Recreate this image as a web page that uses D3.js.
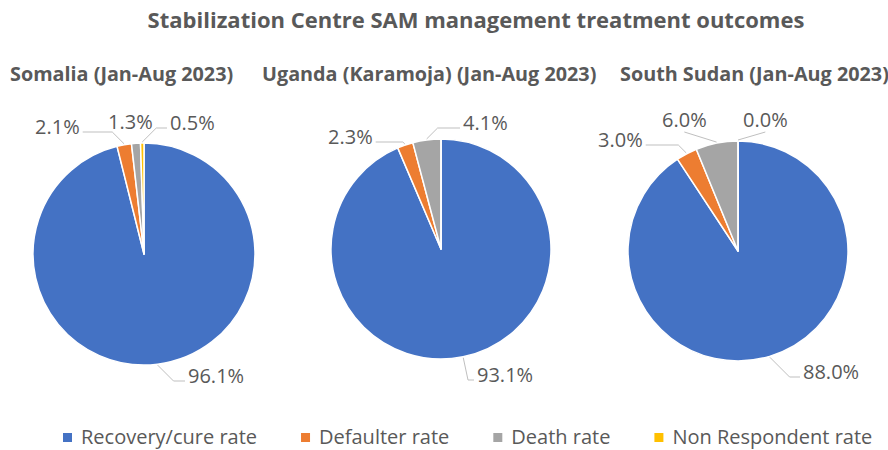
<!DOCTYPE html>
<html>
<head>
<meta charset="utf-8">
<script src="https://cdn.jsdelivr.net/npm/d3@7"></script>
<style>
  body { margin: 0; background: #fff; }
  svg text { font-family: "Open Sans", "Noto Sans", sans-serif; }
</style>
</head>
<body>
<svg id="chart"></svg>
<script>
// Data
const categories = ["Recovery/cure rate", "Defaulter rate", "Death rate", "Non Respondent rate"];
const colors = ["#4472C4", "#ED7D31", "#A5A5A5", "#FFC000"];
const regions = ["Somalia (Jan-Aug 2023)", "Uganda (Karamoja) (Jan-Aug 2023)", "South Sudan (Jan-Aug 2023)"];
const somalia = [96.1, 2.1, 1.3, 0.5];
const uganda = [93.1, 2.3, 4.1, null];
const southSudan = [88.0, 3.0, 6.0, 0.0];
const seriesValues = [somalia, uganda, southSudan];

// Chart Dimensions
const width = 888;
const height = 450;
const textColor = "#595959";

// pie placement and label offsets (relative to the pie centre)
const pies = [
  { cx: 144, cy: 254, r: 111, title: { x: 10, y: 81 } },
  { cx: 441, cy: 249, r: 110, title: { x: 262, y: 81 } },
  { cx: 738, cy: 251, r: 110, title: { x: 620, y: 81 } }
];
const labelLayout = [
  [{ dx: 44, dy: 122, at: "L" }, { dx: -109, dy: -127, at: "R" }, { dx: -36, dy: -132, at: "none" }, { dx: 26, dy: -131, at: "L" }],
  [{ dx: 36, dy: 126, at: "L" }, { dx: -113, dy: -112, at: "R" }, { dx: 22, dy: -126, at: "L" }, null],
  [{ dx: 65, dy: 121, at: "L" }, { dx: -140, dy: -111, at: "R" }, { dx: -76, dy: -131, at: "B" }, { dx: 5, dy: -131, at: "B" }]
];

const svg = d3.select("#chart").attr("width", width).attr("height", height);

// Main title
svg.append("text")
  .attr("x", 476)
  .attr("y", 28)
  .attr("text-anchor", "middle")
  .attr("font-size", 22)
  .attr("font-weight", "bold")
  .attr("fill", textColor)
  .text("Stabilization Centre SAM management treatment outcomes");

const pie = d3.pie().sort(null).value((d) => d || 0).startAngle(0).endAngle(2 * Math.PI);

pies.forEach((p, i) => {
  const g = svg.append("g").attr("transform", `translate(${p.cx},${p.cy})`);
  const arc = d3.arc().innerRadius(0).outerRadius(p.r);
  const arcs = pie(seriesValues[i]);

  svg.append("text")
    .attr("x", p.title.x)
    .attr("y", p.title.y)
    .attr("font-size", 19.8)
    .attr("font-weight", "bold")
    .attr("fill", textColor)
    .text(regions[i]);

  g.selectAll("path")
    .data(arcs)
    .enter()
    .append("path")
    .attr("d", arc)
    .attr("fill", (d, j) => colors[j])
    .attr("stroke", "#fff")
    .attr("stroke-width", 1.5)
    .attr("stroke-linejoin", "round");

  // Data labels with leader lines
  arcs.forEach((a, j) => {
    const lay = labelLayout[i][j];
    if (!lay || a.data === null) return;
    const label = g.append("text")
      .attr("x", lay.dx)
      .attr("y", lay.dy)
      .attr("dy", "0.35em")
      .attr("font-size", 20)
      .attr("fill", textColor)
      .text(d3.format(".1f")(a.data) + "%");
    const w = label.node().getComputedTextLength();

    if (lay.at === "none") return;
    const mid = (a.startAngle + a.endAngle) / 2;
    const ax = Math.sin(mid) * (p.r + 1);
    const ay = -Math.cos(mid) * (p.r + 1);
    let pts;
    if (lay.at === "B") {
      pts = [[ax, ay], [lay.dx + w / 2, lay.dy + 12]];
    } else if (lay.at === "L") {
      const tx = lay.dx - 3, ty = lay.dy + 5;
      const ex = Math.min(ax + Math.abs(ay - ty), tx - 6);
      pts = [[ax, ay], [ex, ty], [tx, ty]];
    } else {
      const tx = lay.dx + w + 3, ty = lay.dy + 5;
      const ex = Math.max(ax - Math.abs(ay - ty), tx + 6);
      pts = [[ax, ay], [ex, ty], [tx, ty]];
    }
    g.append("path")
      .attr("d", d3.line()(pts))
      .attr("fill", "none")
      .attr("stroke", "#BFBFBF")
      .attr("stroke-width", 1);
  });
});

// Legend
const legend = svg.append("g").attr("transform", "translate(63, 437)");
let lx = 0;
categories.forEach((c, i) => {
  const item = legend.append("g").attr("transform", `translate(${lx},0)`);
  item.append("rect")
    .attr("x", 0)
    .attr("y", -4)
    .attr("width", 9)
    .attr("height", 9)
    .attr("fill", colors[i]);
  const t = item.append("text")
    .attr("x", 18)
    .attr("y", 0)
    .attr("dy", "0.35em")
    .attr("font-size", 20)
    .attr("fill", textColor)
    .text(c);
  lx += 18 + t.node().getComputedTextLength() + 44;
});
</script>
</body>
</html>
